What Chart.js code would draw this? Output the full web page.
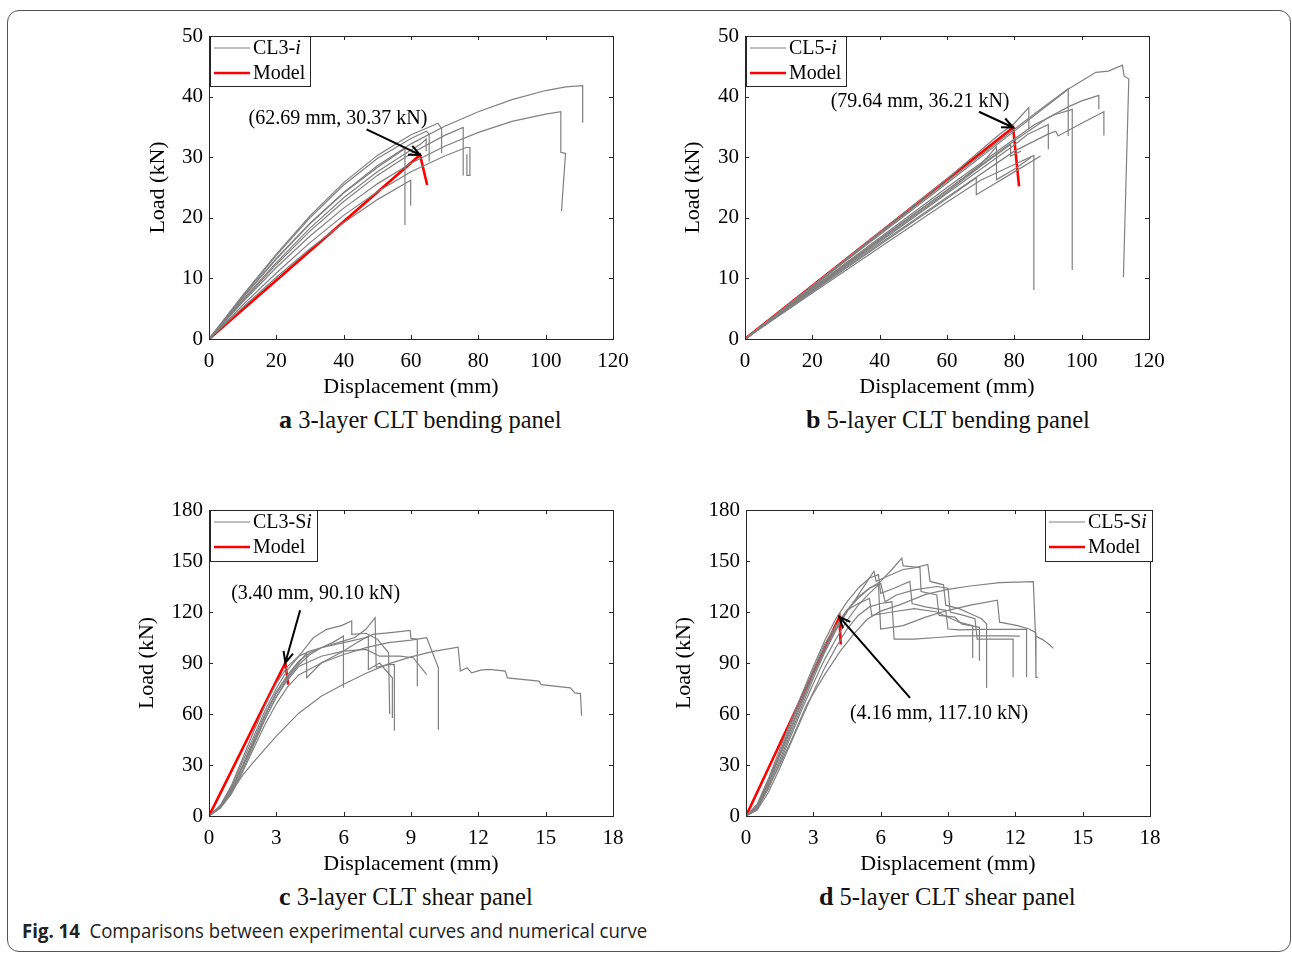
<!DOCTYPE html>
<html>
<head>
<meta charset="utf-8">
<script src="https://cdn.jsdelivr.net/npm/chart.js@4.4.1/dist/chart.umd.min.js"></script>
<style>
  body { margin: 0; background: #fff; width: 1292px; height: 954px; position: relative; overflow: hidden;
         font-family: "Liberation Serif", "Times New Roman", serif; }
  .frame { position: absolute; left: 7px; top: 10px; width: 1282px; height: 940px;
           border: 1px solid #555; border-radius: 12px; }
  canvas { position: absolute; }
  .sub { position: absolute; font-size: 24.5px; line-height: 24px; white-space: nowrap; color: #111; }
  .sub b { font-size: 26px; }
  .cap { position: absolute; left: 22px; top: 920px; white-space: nowrap; color: #222;
         font-family: "Liberation Sans Narrow", "Open Sans", sans-serif; font-size: 20px; line-height: 22px;
         transform: scaleX(0.93); transform-origin: left center; }
</style>
</head>
<body>
<div class="frame"></div>
<canvas id="panelA" width="500" height="380" style="left:130px;top:20px"></canvas>
<canvas id="panelB" width="500" height="380" style="left:666px;top:20px"></canvas>
<canvas id="panelC" width="500" height="383" style="left:130px;top:494px"></canvas>
<canvas id="panelD" width="500" height="383" style="left:667px;top:494px"></canvas>
<div class="sub" style="left:279px;top:408px"><b>a</b> 3-layer CLT bending panel</div>
<div class="sub" style="left:806px;top:408px"><b>b</b> 5-layer CLT bending panel</div>
<div class="sub" style="left:279px;top:885px"><b>c</b> 3-layer CLT shear panel</div>
<div class="sub" style="left:819px;top:885px"><b>d</b> 5-layer CLT shear panel</div>
<div class="cap"><b>Fig. 14</b>&nbsp; Comparisons between experimental curves and numerical curve</div>
<script>
// tick values
const dispTicksBend = [0, 20, 40, 60, 80, 100, 120];
const loadTicksBend = [0, 10, 20, 30, 40, 50];
const dispTicksShear = [0, 3, 6, 9, 12, 15, 18];
const loadTicksShear = [0, 30, 60, 90, 120, 150, 180];

// 3-layer bending tests [displacement mm, load kN]
const cl3Tests = [
  [[0,0],[10,6.9],[20,13.3],[30,19.1],[40,24.2],[50,28.6],[60,32.2],[70,35.1],[80,37.5],[90,39.5],[100,41],[106,41.6],[111,41.8],[111,35.7]],
  [[0,0],[10,6.1],[20,11.8],[30,17],[40,21.6],[50,25.6],[60,29],[70,31.8],[80,34.1],[90,35.9],[100,37.1],[104.5,37.5],[104.5,30.8],[105.9,30.6],[104.7,21.1]],
  [[0,0],[10,6.8],[20,13.2],[30,19],[40,24.1],[50,28.3],[58.2,31.4],[58.2,18.8]],
  [[0,0],[10,5.2],[20,10.2],[30,14.9],[40,19.2],[50,23],[59.9,26.2],[59.9,22]],
  [[0,0],[10,7.1],[20,13.8],[30,20],[40,25.4],[50,29.8],[60,33.1],[64.6,34.3],[65.4,33.8],[65.4,29.3]],
  [[0,0],[10,7.2],[20,14],[30,20.3],[40,25.8],[50,30.3],[60,33.7],[66,35.1],[68,35.6],[69.1,34.7],[69.1,30.7]],
  [[0,0],[10,6.3],[20,12.3],[30,17.8],[40,22.7],[50,27],[60,30.6],[70,33.6],[75.5,34.9],[75.5,27]],
  [[0,0],[10,5.6],[20,10.9],[30,15.9],[40,20.4],[50,24.3],[60,27.6],[70,30.2],[76.4,31.6],[77.5,31.6],[77.5,27],[76.6,27],[76.6,30.5]],
  [[0,0],[10,6.5],[20,12.6],[30,18.3],[40,23.3],[50,27.6],[60,31.2],[63,32.2],[64.5,33],[64.5,31]]
];
const cl3Model = [[0,0],[62.69,30.37],[64.8,25.4]];

// 5-layer bending tests
const cl5Tests = [
  [[0,0],[20,8.6],[40,17.2],[60,25.7],[80,34.3],[96.2,41.3],[104.2,44],[108,44.2],[112.1,45.2],[112.6,43.4],[114,42.9],[112.4,10.2]],
  [[0,0],[20,8.3],[40,16.5],[60,24.6],[80,32.7],[90,36.5],[96,38.3],[100,39.3],[105.1,40.2],[105.1,37.9]],
  [[0,0],[20,8.4],[40,16.7],[60,25],[80,33],[86,35.4],[92,37],[97.2,37.9],[97.2,11.4]],
  [[0,0],[20,7.9],[40,15.7],[60,23.4],[80,31],[90,33.8],[92.3,34.3],[93,33.5],[100,35.6],[106.6,37.5],[106.6,33.6]],
  [[0,0],[20,8.7],[40,17.4],[60,26],[80,34.6],[88,38],[96,41.3],[96,33.5]],
  [[0,0],[20,8],[40,16],[60,24],[80,32],[84,33.8],[90.1,35.4],[90.1,31.3]],
  [[0,0],[20,7.6],[40,15.1],[60,22.6],[70,26.2],[80,28.8],[85.8,30.3],[85.8,8.1]],
  [[0,0],[20,8.2],[40,16.4],[60,24.5],[70,28.8],[74.7,31.7],[74.7,26.3],[80,28],[85,30]],
  [[0,0],[20,7.8],[40,15.5],[60,23.2],[68.7,26.6],[68.7,23.8],[80.4,27.7],[87.8,30.2]],
  [[0,0],[20,8.8],[40,17.6],[60,26.4],[75,33.5],[80,35.6],[84.3,38.2],[84.3,34.6]],
  [[0,0],[20,8.1],[40,16.2],[60,24.2],[70,28.5],[78.9,32.1],[78.9,30.2],[82,31]]
];
const cl5Model = [[0,0],[79.64,34.9],[81.4,25.2]];

// 3-layer shear tests
const cl3sTests = [
  [[0,0],[0.5,5],[1,14],[1.5,24],[2,32],[3,47],[4,60.5],[5,70.5],[6,77.5],[7,84],[8,89.5],[9,93.6],[10,96.8],[11.1,99.3],[11.2,85.2],[11.5,87.2],[11.7,84.2],[12.1,85.8],[12.5,86.2],[13.2,85.2],[13.3,81.2],[14.7,79.3],[14.8,77.3],[16.1,75.4],[16.3,72.4],[16.55,72],[16.6,59]],
  [[0,0],[0.5,5],[1,14],[1.5,27],[2,42],[2.5,57],[3,70],[3.5,81],[4,89],[4.5,95],[5,99],[5.5,101],[6,103],[6.5,105],[7,110],[7.4,116.7],[7.45,87.5],[8,89],[8.26,89.1],[8.26,50.2]],
  [[0,0],[0.5,6],[1,17],[1.5,32],[2,47],[2.5,62],[3,75],[3.5,86],[4,94],[4.65,104.9],[5.24,109.8],[5.9,112],[6.36,114.7],[6.36,106.8],[7,107.5],[7.5,104],[8,96],[8.05,60]],
  [[0,0],[0.5,4.5],[1,13],[1.5,26],[2,40],[2.5,54],[3,66],[3.5,76],[4,83],[5,90],[6,95],[7,99],[8,102],[9,103.5],[9.7,104.9],[10.22,87.2],[10.22,50.8]],
  [[0,0],[0.5,5.5],[1,16],[1.5,30],[2,45],[2.5,60],[3,73],[3.5,83],[4,91],[4.5,96],[5,99],[6,102],[7,105],[7.3,106.8],[8.2,108],[8.96,109.2],[9,104.5],[9.28,104],[9.28,76.3]],
  [[0,0],[0.5,5],[1,15],[1.5,29],[2,43],[2.5,57],[3,70],[3.5,80],[4,88],[5,94],[6,97],[7,98],[7.6,94],[8.5,94],[9.1,93.1],[9.7,83.2]],
  [[0,0],[0.5,6],[1,18],[1.5,34],[2,50],[2.5,65],[3,78],[3.5,88],[4,94],[4.5,97],[5,99],[5.5,102],[5.99,105.8],[5.99,75.4]],
  [[0,0],[0.5,5],[1,15],[1.5,29],[2,44],[2.5,59],[3,72],[3.5,82],[4,90],[4.35,96],[4.35,81.3],[5,90],[6,97],[6.6,102],[7.1,105.8],[7.1,86.2],[7.6,90],[8.17,81.3],[8.17,57.7]]
];
const cl3sModel = [[0,0],[3.40,90.1],[3.53,77.3]];

// 5-layer shear tests
const cl5sTests = [
  [[0,0],[0.5,4],[1,17],[1.5,30],[2,44],[2.7,65.5],[3.5,83],[4.2,97],[4.8,107],[5.4,115.7],[6,120.5],[6.9,124.5],[8,130.4],[9,133.3],[10,135.3],[11.3,137.3],[12.8,137.9],[12.9,105.8],[13.2,103.9],[13.5,101],[13.7,98.6]],
  [[0,0],[0.5,6],[1,20],[1.5,36],[2,52],[2.5,68],[3,84],[3.5,99],[4,111],[4.5,121],[5,128],[5.5,134],[6,138],[6.5,145],[6.94,151.7],[7,147.1],[7.75,146.2],[7.8,132],[8.5,130],[8.6,118],[9.3,117],[9.6,113],[10.4,111],[10.4,91.3]],
  [[0,0],[0.5,5],[1,18],[1.5,33],[2,49],[2.5,65],[3,81],[3.5,96],[4,109],[4.5,120],[5,130],[5.3,136],[5.5,140],[5.7,144],[5.8,138],[6.3,141],[7,145],[7.5,146],[8.1,148],[8.2,138],[8.8,136],[8.9,124],[9.5,122],[10,119],[10.5,116],[10.72,113],[10.72,75.4]],
  [[0,0],[0.5,7],[1,22],[1.5,39],[2,56],[2.5,72],[3,88],[3.5,103],[4,116],[4.5,126],[5,134],[5.5,140],[5.9,142],[6,131],[6.6,134],[7.3,138],[7.4,125],[8,123],[8.9,121],[9,110],[9.5,109.5],[10.5,109.8],[11.5,109.8],[12.5,109.8],[12.5,81.6]],
  [[0,0],[0.5,5.5],[1,19],[1.5,35],[2,51],[2.5,67],[3,83],[3.5,97],[4,110],[4.5,121],[5,129],[5.5,134],[6,137],[6.2,126],[6.7,130],[7.5,133],[8.5,135],[9,134],[9.1,120],[9.7,118],[10.2,116],[10.3,104],[11,104],[11.9,104],[11.9,81.6]],
  [[0,0],[0.5,4.5],[1,16],[1.5,31],[2,47],[2.5,63],[3,78],[3.5,92],[4,104],[4.5,115],[5,124],[5.5,131],[5.9,136],[6,110],[7,112],[8,117],[9,121],[10,124],[11.2,127],[11.3,114],[12.1,112],[12.6,110],[12.9,108],[12.92,81.6],[13,81.6]],
  [[0,0],[0.5,3.5],[1,14],[1.5,28],[2,43],[2.5,58],[3,73],[3.5,87],[4,99],[4.5,110],[5,118],[5.5,123],[6,125],[6.5,126],[6.6,104],[7.5,104],[8.5,105],[9.5,106],[10.5,106],[11.5,106],[12.2,105.8]],
  [[0,0],[0.5,6],[1,21],[1.5,37],[2,54],[2.5,70],[3,86],[3.5,101],[4,112],[4.5,121],[5,125],[5.5,128],[5.6,118],[6.5,120],[7.5,122],[8.5,120],[9.5,114],[10.1,112],[10.1,93]]
];
const cl5sModel = [[0,0],[4.16,117.1],[4.22,100.9]];

const testColor = '#808080';
const modelColor = '#ff0000';
const serif = '"Liberation Serif", "Times New Roman", serif';

// MATLAB-like box, inward ticks, legend and arrow note
const matlabFrame = {
  id: 'matlabFrame',
  afterDatasetsDraw(chart, args, o) {
    const {ctx, chartArea: a, scales: {x, y}} = chart;
    ctx.save();
    // arrow note
    const n = o.note;
    const x1 = x.getPixelForValue(n.from[0]), y1 = y.getPixelForValue(n.from[1]);
    const x2 = x.getPixelForValue(n.to[0]), y2 = y.getPixelForValue(n.to[1]);
    const ang = Math.atan2(y2 - y1, x2 - x1);
    ctx.strokeStyle = '#000';
    ctx.lineWidth = 2;
    ctx.beginPath();
    ctx.moveTo(x1, y1); ctx.lineTo(x2, y2);
    ctx.moveTo(x2 - 12 * Math.cos(ang - 0.42), y2 - 12 * Math.sin(ang - 0.42));
    ctx.lineTo(x2, y2);
    ctx.lineTo(x2 - 12 * Math.cos(ang + 0.42), y2 - 12 * Math.sin(ang + 0.42));
    ctx.stroke();
    ctx.fillStyle = '#000';
    ctx.font = '20px ' + serif;
    ctx.textAlign = 'center';
    ctx.textBaseline = 'middle';
    ctx.fillText(n.text, x.getPixelForValue(n.at[0]), y.getPixelForValue(n.at[1]));

    // box and ticks
    ctx.strokeStyle = '#262626';
    ctx.lineWidth = 1;
    ctx.strokeRect(Math.round(a.left) + 0.5, Math.round(a.top) + 0.5, Math.round(a.right - a.left), Math.round(a.bottom - a.top));
    ctx.beginPath();
    x.ticks.forEach(t => {
      const p = Math.round(x.getPixelForValue(t.value)) + 0.5;
      ctx.moveTo(p, a.bottom); ctx.lineTo(p, a.bottom - 4);
      ctx.moveTo(p, a.top); ctx.lineTo(p, a.top + 4);
    });
    y.ticks.forEach(t => {
      const p = Math.round(y.getPixelForValue(t.value)) + 0.5;
      ctx.moveTo(a.left, p); ctx.lineTo(a.left + 4, p);
      ctx.moveTo(a.right, p); ctx.lineTo(a.right - 4, p);
    });
    ctx.stroke();

    // legend
    const L = o.legend;
    const lx = Math.round(L.side === 'left' ? a.left + 1 : a.right - L.w + 2);
    const ly = Math.round(a.top);
    ctx.fillStyle = '#fff';
    ctx.fillRect(lx, ly, L.w, L.h);
    ctx.strokeRect(lx + 0.5, ly + 0.5, L.w, L.h);
    ctx.lineWidth = 1.2;
    ctx.strokeStyle = testColor;
    ctx.beginPath(); ctx.moveTo(lx + 4, ly + 12); ctx.lineTo(lx + 40, ly + 12); ctx.stroke();
    ctx.lineWidth = 2.5;
    ctx.strokeStyle = modelColor;
    ctx.beginPath(); ctx.moveTo(lx + 4, ly + 37); ctx.lineTo(lx + 40, ly + 37); ctx.stroke();
    ctx.fillStyle = '#000';
    ctx.textAlign = 'left';
    ctx.font = '20px ' + serif;
    ctx.fillText(L.name, lx + 43, ly + 13);
    const w = ctx.measureText(L.name).width;
    ctx.font = 'italic 20px ' + serif;
    ctx.fillText('i', lx + 43 + w, ly + 13);
    ctx.font = '20px ' + serif;
    ctx.fillText('Model', lx + 43, ly + 38);
    ctx.restore();
  }
};

function toPts(c) { return c.map(p => ({x: p[0], y: p[1]})); }

function makePanel(id, tests, model, xTicks, yTicks, yTitlePad, frameOpts) {
  const datasets = tests.map(c => ({
    data: toPts(c), borderColor: testColor, borderWidth: 1.2, pointRadius: 0, tension: 0, fill: false
  }));
  datasets.push({data: toPts(model), borderColor: modelColor, borderWidth: 2.6, pointRadius: 0, tension: 0, fill: false});
  const tickFont = {family: serif, size: 21};
  const titleFont = {family: serif, size: 22};
  return new Chart(document.getElementById(id), {
    type: 'line',
    data: {datasets},
    options: {
      animation: false,
      responsive: false,
      layout: {padding: {top: 16, right: 17, bottom: 0, left: 0}},
      plugins: {legend: {display: false}, tooltip: {enabled: false}, matlabFrame: frameOpts},
      scales: {
        x: {
          type: 'linear', min: xTicks[0], max: xTicks[xTicks.length - 1],
          afterBuildTicks: s => { s.ticks = xTicks.map(v => ({value: v})); },
          afterFit: s => { s.height = 61; s.paddingLeft = 0; s.paddingRight = 0; },
          ticks: {font: tickFont, color: '#000', padding: 10, maxRotation: 0, autoSkip: false},
          grid: {display: false, drawTicks: false},
          border: {display: false},
          title: {display: true, text: 'Displacement (mm)', font: titleFont, color: '#000', padding: {top: 0, bottom: 0}}
        },
        y: {
          type: 'linear', min: yTicks[0], max: yTicks[yTicks.length - 1],
          afterBuildTicks: s => { s.ticks = yTicks.map(v => ({value: v})); },
          afterFit: s => { s.width = 79; s.paddingTop = 0; s.paddingBottom = 0; },
          ticks: {font: tickFont, color: '#000', padding: 6, autoSkip: false},
          grid: {display: false, drawTicks: false},
          border: {display: false},
          title: {display: true, text: 'Load (kN)', font: titleFont, color: '#000', padding: {top: yTitlePad, bottom: 0}}
        }
      }
    },
    plugins: [matlabFrame]
  });
}

makePanel('panelA', cl3Tests, cl3Model, dispTicksBend, loadTicksBend, 15, {
  legend: {side: 'left', w: 100, h: 50, name: 'CL3-'},
  note: {text: '(62.69 mm, 30.37 kN)', at: [38.3, 36.4], from: [46.8, 34.6], to: [62.69, 30.37]}
});
makePanel('panelB', cl5Tests, cl5Model, dispTicksBend, loadTicksBend, 14, {
  legend: {side: 'left', w: 100, h: 50, name: 'CL5-'},
  note: {text: '(79.64 mm, 36.21 kN)', at: [52.0, 39.2], from: [69.5, 37.5], to: [79.64, 34.9]}
});
makePanel('panelC', cl3sTests, cl3sModel, dispTicksShear, loadTicksShear, 4, {
  legend: {side: 'left', w: 107, h: 51, name: 'CL3-S'},
  note: {text: '(3.40 mm, 90.10 kN)', at: [4.75, 131], from: [4.06, 121], to: [3.40, 90.1]}
});
makePanel('panelD', cl5sTests, cl5sModel, dispTicksShear, loadTicksShear, 4, {
  legend: {side: 'right', w: 107, h: 51, name: 'CL5-S'},
  note: {text: '(4.16 mm, 117.10 kN)', at: [8.6, 60.2], from: [7.31, 69.5], to: [4.16, 117.1]}
});
</script>
</body>
</html>
